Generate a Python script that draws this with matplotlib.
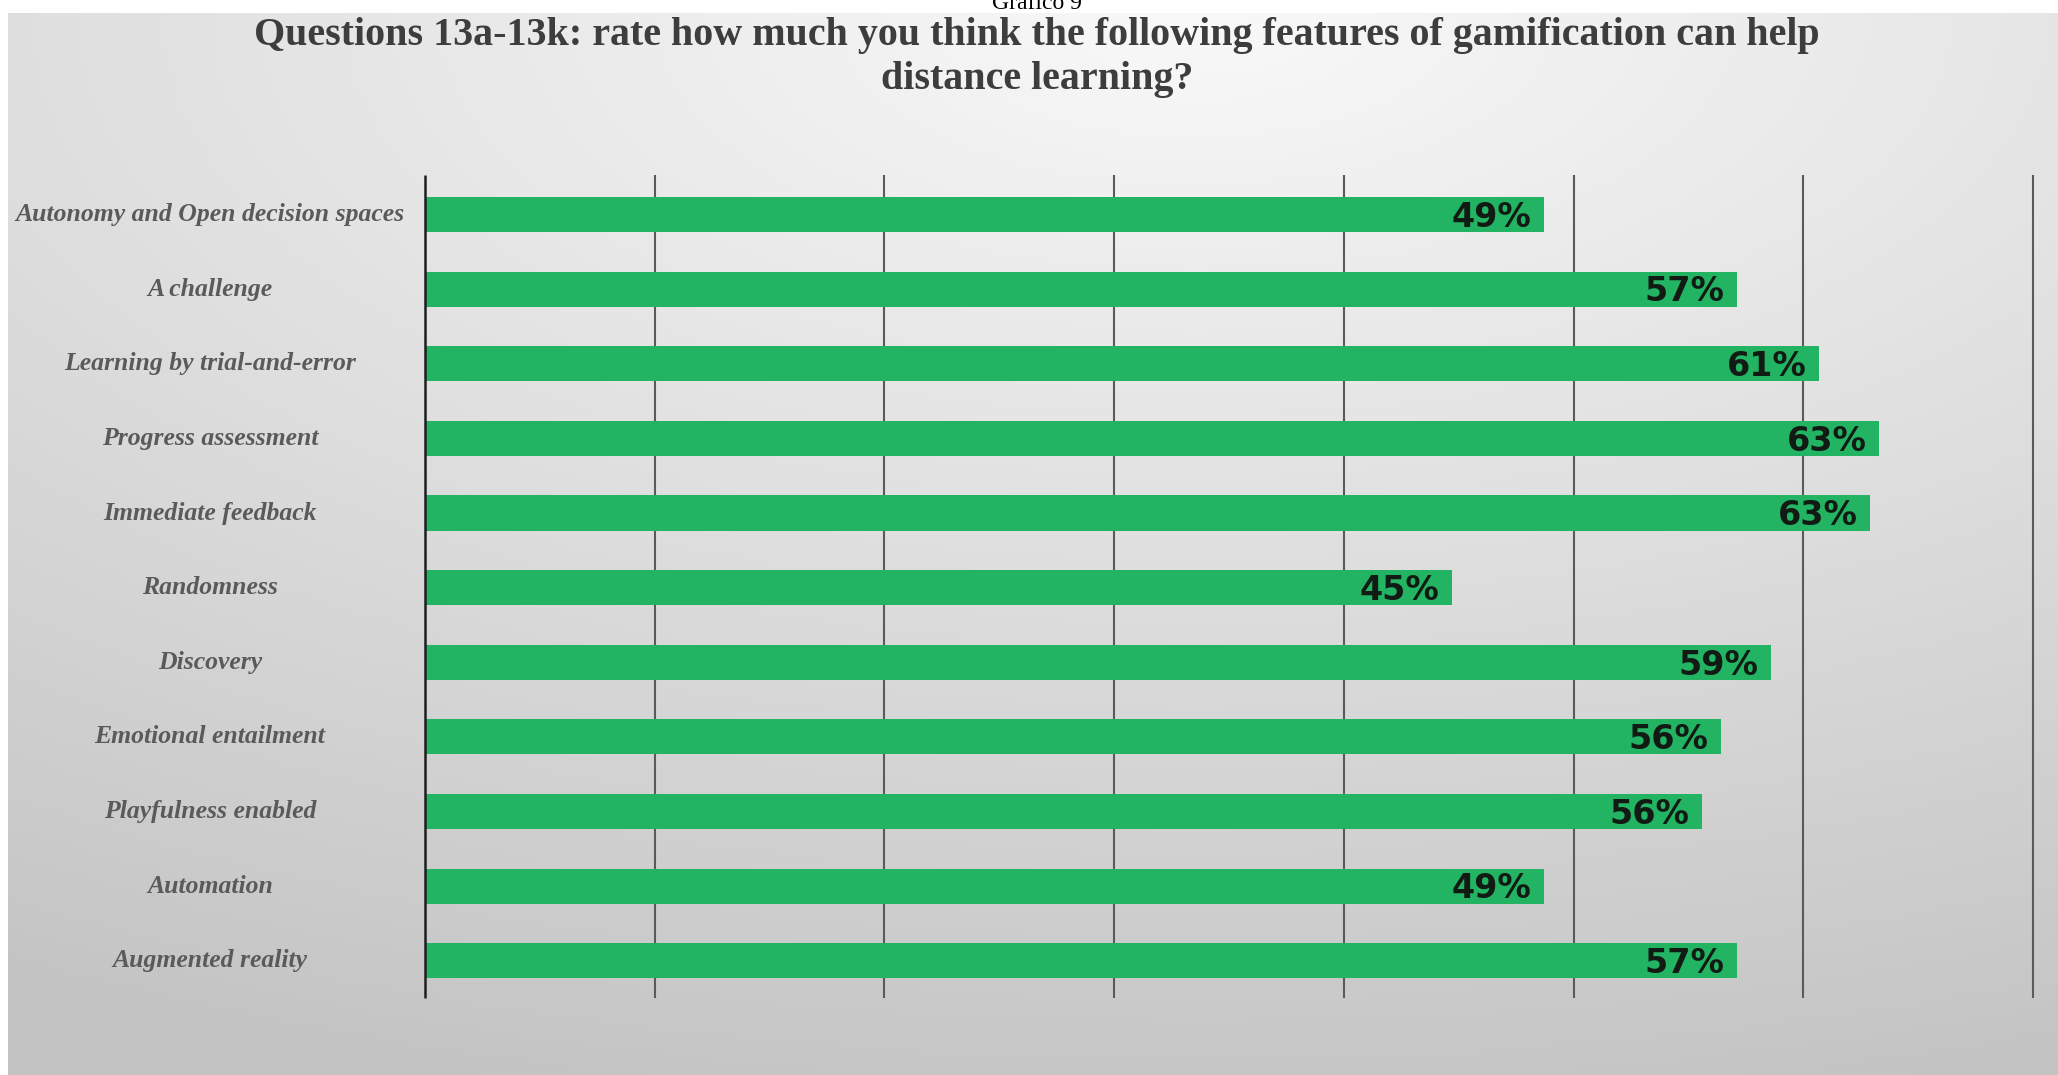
import numpy as np
import matplotlib
matplotlib.use('Agg')
import matplotlib.pyplot as plt
from matplotlib import transforms

# survey answers, top to bottom as they appear on the chart
features = [
    'Autonomy and Open decision spaces',
    'A challenge',
    'Learning by trial-and-error',
    'Progress assessment',
    'Immediate feedback',
    'Randomness',
    'Discovery',
    'Emotional entailment',
    'Playfulness enabled',
    'Automation',
    'Augmented reality',
]
share_pct = [48.7, 57.1, 60.7, 63.3, 62.9, 44.7, 58.6, 56.4, 55.6, 48.7, 57.1]
grid_ticks = [0, 10, 20, 30, 40, 50, 60, 70]

title_lines = [
    'Questions 13a-13k: rate how much you think the following features of gamification can help',
    'distance learning?',
]

W, H = 2058, 1075
fig = plt.figure(figsize=(W / 100, H / 100), dpi=100)
fig.patch.set_facecolor('white')

# grey backdrop, lighter near the top centre
bg = fig.add_axes([8 / W, 0, 1 - 8 / W, 1 - 13 / H])
bg.set_axis_off()
gx, gy = np.meshgrid(np.linspace(0, 1, 400), np.linspace(0, 1, 220))
d = np.sqrt(((gx - 0.58) / 1.05) ** 2 + (gy / 0.95) ** 2)
shade = np.clip(249 - 48 * d, 195, 250) / 255.0
bg.imshow(np.dstack([shade, shade, shade]), aspect='auto', extent=(0, 1, 1, 0))
bg.set_xlim(0, 1)
bg.set_ylim(1, 0)

# page caption, only its lower half shows above the backdrop
fig.text(1037 / W, 1 - 9 / H, 'Grafico 9', ha='center', va='baseline',
         fontsize=17, family='Liberation Serif', color='black', zorder=0)

fig.text(1037 / W, 1 - 36 / H, title_lines[0], ha='center', va='center',
         fontsize=28.8, family='Liberation Serif', fontweight='bold', color='#3d3d3d')
fig.text(1037 / W, 1 - 80 / H, title_lines[1], ha='center', va='center',
         fontsize=28.8, family='Liberation Serif', fontweight='bold', color='#3d3d3d')

ax = fig.add_axes([425 / W, 1 - 998 / H, (2033 - 425) / W, (998 - 175) / H])
ax.patch.set_alpha(0)
n = len(features)
rows = np.arange(n)
ax.set_xlim(grid_ticks[0], grid_ticks[-1])
ax.set_ylim(n - 0.5, -0.53)
for s in ax.spines.values():
    s.set_visible(False)
ax.set_xticks([])
ax.set_yticks([])

y0, y1 = ax.get_ylim()
ax.vlines(grid_ticks[1:], y0, y1, colors='#5a5a5a', linewidth=1.5, zorder=1, clip_on=False)
ax.vlines(grid_ticks[0], y0, y1, colors='#1e1e1e', linewidth=1.8, zorder=3, clip_on=False)

ax.barh(rows, share_pct, height=0.47, color='#22b463', zorder=2)

for i, v in zip(rows, share_pct):
    ax.annotate(f'{v:.0f}%', xy=(v, i), xytext=(-9, -2), textcoords='offset points',
                ha='right', va='center', fontsize=24, fontweight='bold',
                family='DejaVu Sans', color='#121a14', zorder=4)

# category names centred in the left margin
lab_tr = transforms.blended_transform_factory(fig.transFigure, ax.transData)
for i, name in zip(rows, features):
    ax.text(210 / W, i, name, transform=lab_tr, ha='center', va='center',
            fontsize=18.5, family='Liberation Serif', style='italic', fontweight='bold',
            color='#5a5a5a')

fig.savefig('out.png', dpi=100)
